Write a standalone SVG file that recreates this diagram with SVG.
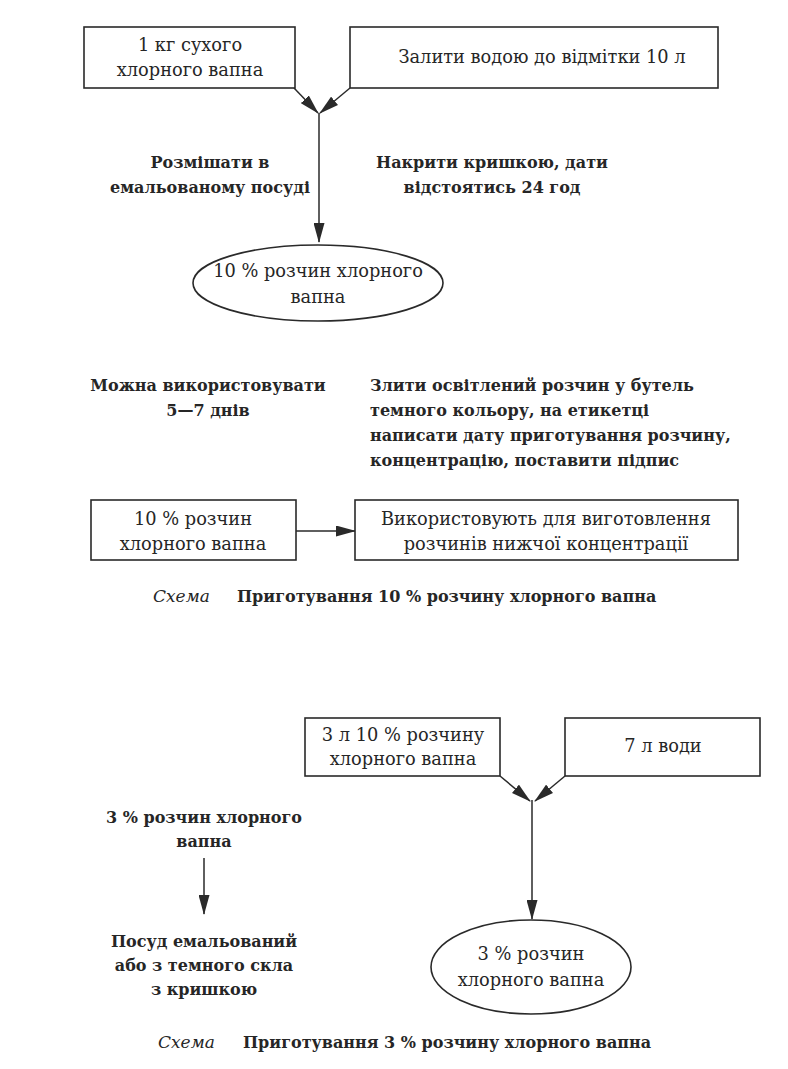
<svg xmlns="http://www.w3.org/2000/svg" width="788" height="1069" viewBox="0 0 788 1069">
<style>
.box{fill:#fff;stroke:#2a2a2a;stroke-width:1.6}
.t{font-family:"DejaVu Serif","Liberation Serif",serif;font-size:17.8px;fill:#262626;text-anchor:middle}
.b{font-family:"DejaVu Serif","Liberation Serif",serif;font-size:16px;font-weight:bold;fill:#262626;text-anchor:middle}
.l{text-anchor:start}
.i{font-family:"DejaVu Serif","Liberation Serif",serif;font-size:17px;font-style:italic;fill:#262626}
.c line{stroke:#2a2a2a;stroke-width:1.5;marker-end:url(#ah)}
</style>
<defs>
<marker id="ah" viewBox="0 0 20 11" refX="19" refY="5.5" markerWidth="20" markerHeight="11" markerUnits="userSpaceOnUse" orient="auto">
<path d="M0,0 L20,5.5 L0,11 Z" fill="#2a2a2a"/>
</marker>
</defs>
<rect width="788" height="1069" fill="#fff"/>

<g class="c" id="connectors">
<line x1="294" y1="88" x2="318" y2="113"/>
<line x1="350" y1="88" x2="320" y2="113"/>
<line x1="319" y1="113" x2="319" y2="242"/>
<line x1="296" y1="531" x2="355" y2="531"/>
<line x1="500" y1="776" x2="530" y2="801"/>
<line x1="565" y1="776" x2="535" y2="801"/>
<line x1="532" y1="800" x2="532" y2="919"/>
<line x1="204" y1="858" x2="204" y2="914"/>
</g>

<g id="n1"><rect class="box" x="84" y="27" width="211" height="61"/>
<text class="t" x="190" y="51">1 кг сухого</text><text class="t" x="190" y="76">хлорного вапна</text></g>
<g id="n2"><rect class="box" x="350" y="27" width="368" height="61"/>
<text class="t" x="542" y="63">Залити водою до відмітки 10 л</text></g>
<g id="l1"><text class="b" x="210" y="168">Розмішати в</text><text class="b" x="210" y="193">емальованому посуді</text></g>
<g id="l2"><text class="b" x="492" y="168">Накрити кришкою, дати</text><text class="b" x="492" y="193">відстоятись 24 год</text></g>
<g id="n3"><ellipse class="box" cx="318" cy="283" rx="125" ry="38"/>
<text class="t" x="318" y="277">10 % розчин хлорного</text><text class="t" x="318" y="303">вапна</text></g>

<g id="l3"><text class="b" x="208" y="391">Можна використовувати</text><text class="b" x="208" y="416">5—7 днів</text></g>
<g id="l4"><text class="b l" x="370" y="391">Злити освітлений розчин у бутель</text>
<text class="b l" x="370" y="416">темного кольору, на етикетці</text>
<text class="b l" x="370" y="441">написати дату приготування розчину,</text>
<text class="b l" x="370" y="466">концентрацію, поставити підпис</text></g>

<g id="n4"><rect class="box" x="91" y="500" width="205" height="60"/>
<text class="t" x="193" y="525">10 % розчин</text><text class="t" x="193" y="550">хлорного вапна</text></g>
<g id="n5"><rect class="box" x="355" y="500" width="383" height="60"/>
<text class="t" x="546" y="525">Використовують для виготовлення</text><text class="t" x="546" y="550">розчинів нижчої концентрації</text></g>

<g id="cap1"><text class="i" x="153" y="602">Схема</text><text class="b l" x="237" y="602">Приготування 10 % розчину хлорного вапна</text></g>

<g id="n6"><rect class="box" x="305" y="718" width="195" height="58"/>
<text class="t" x="403" y="741">3 л 10 % розчину</text><text class="t" x="403" y="765">хлорного вапна</text></g>
<g id="n7"><rect class="box" x="565" y="718" width="195" height="58"/>
<text class="t" x="663" y="752">7 л води</text></g>
<g id="n8"><ellipse class="box" cx="531" cy="967" rx="100" ry="47"/>
<text class="t" x="531" y="960">3 % розчин</text><text class="t" x="531" y="986">хлорного вапна</text></g>

<g id="l5"><text class="b" x="204" y="823">3 % розчин хлорного</text><text class="b" x="204" y="847">вапна</text></g>
<g id="l6"><text class="b" x="204" y="947">Посуд емальований</text><text class="b" x="204" y="971">або з темного скла</text><text class="b" x="204" y="995">з кришкою</text></g>

<g id="cap2"><text class="i" x="158" y="1048">Схема</text><text class="b l" x="243" y="1048">Приготування 3 % розчину хлорного вапна</text></g>
</svg>
